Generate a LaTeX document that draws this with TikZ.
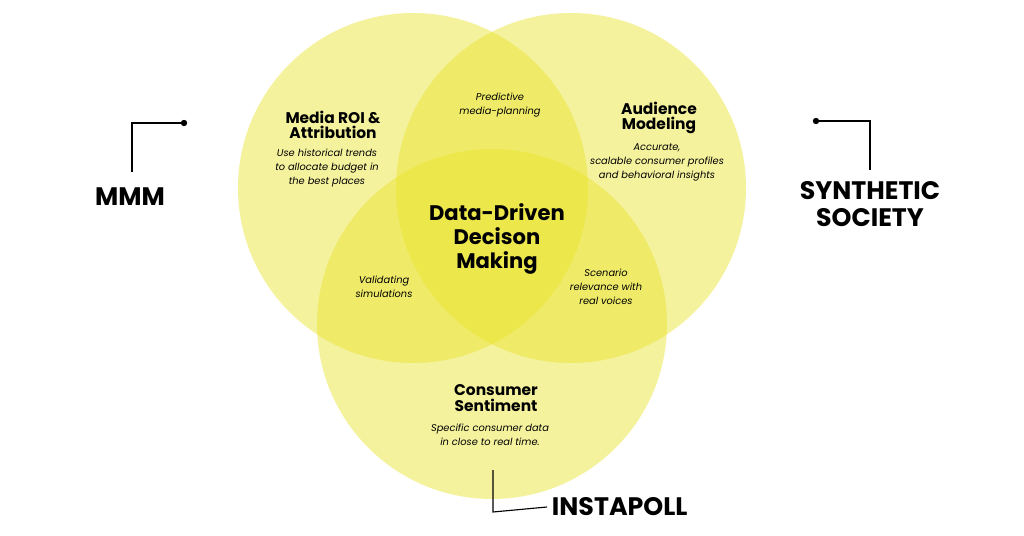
\documentclass[tikz,border=0pt]{standalone}
\usepackage{fontspec}
\setmainfont{Poppins}
\definecolor{vennyellow}{RGB}{232,226,40}
\tikzset{
  venn/.style={fill=vennyellow, fill opacity=0.45, draw=none},
  title/.style={align=center, font=\bfseries\fontsize{11}{11}\selectfont},
  body/.style={align=center, font=\itshape\fontsize{7}{10}\selectfont},
  brand/.style={align=center, font=\bfseries\fontsize{18}{19}\selectfont},
  leader/.style={line width=0.8pt},
  dot/.style={circle, fill=black, inner sep=1.6pt}
}
\begin{document}
\begin{tikzpicture}[x=0.025cm, y=-0.025cm]
  \useasboundingbox (0,0) rectangle (1024,536);
  % circles
  \fill[venn] (413,188) circle (175);
  \fill[venn] (571,188) circle (175);
  \fill[venn] (492,324) circle (175);

  % circle texts
  \node[title] (roi) at (333,125) {Media ROI \&\\Attribution};
  \node[body] (roitxt) at (327,168) {Use historical trends\\to allocate budget in\\the best places};
  \node[body] (pred) at (500,105) {Predictive\\media-planning};
  \node[title] (aud) at (659,118) {Audience\\Modeling};
  \node[body] (audtxt) at (657,162) {Accurate,\\scalable consumer profiles\\and behavioral insights};
  \node[align=center, font=\bfseries\fontsize{15}{17}\selectfont] (core) at (497,239) {Data-Driven\\Decison\\Making};
  \node[body] (valid) at (384,287) {Validating\\simulations};
  \node[body] (scen) at (606,287) {Scenario\\relevance with\\real voices};
  \node[title] (cons) at (496,398) {Consumer\\Sentiment};
  \node[body] (constxt) at (490,435) {Specific consumer data\\in close to real time.};

  % brands
  \node[brand] (mmm) at (130,197) {MMM};
  \node[brand] (synth) at (870,204) {SYNTHETIC\\SOCIETY};
  \node[brand, anchor=west] (insta) at (547,507) {INSTAPOLL};

  % leaders
  \node[dot] (dm) at (184,123) {};
  \coordinate (cm) at (132,123);
  \draw[leader] (dm.center) -- (cm) -- (132,172);
  \node[dot] (ds) at (816,121) {};
  \coordinate (cs) at (870,121);
  \draw[leader] (ds.center) -- (cs) -- (870,170);
  \coordinate (ti) at (493,470);
  \coordinate (ci) at (493,512);
  \draw[leader] (ti) -- (ci) -- (insta.west);
\end{tikzpicture}
\end{document}
